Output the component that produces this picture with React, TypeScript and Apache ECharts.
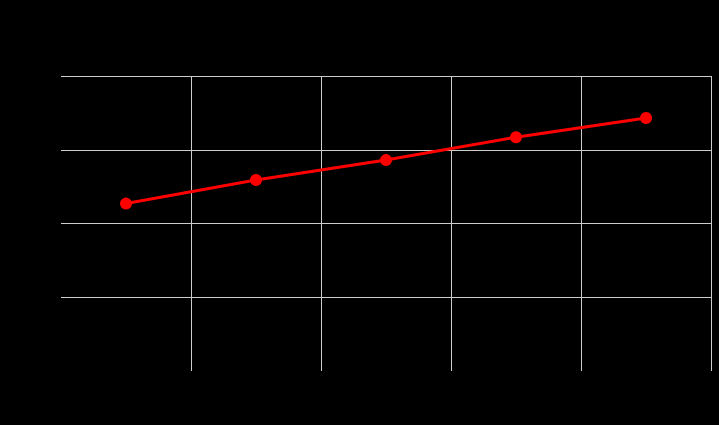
import { useEffect, useRef } from 'react';
import * as echarts from 'echarts';

// ─── Data ─────────────────────────────────────────────────────────────────────

const categories = ['1', '2', '3', '4', '5'];
const values = [22.7, 25.9, 28.6, 31.7, 34.3];

const Y_MIN = 0;
const Y_MAX = 40;
const Y_STEP = 10;

// ─── Option ───────────────────────────────────────────────────────────────────

function buildOption(): echarts.EChartsOption {
  return {
    animation: false,
    backgroundColor: '#000000',
    grid: { left: 61, right: 8, top: 76, bottom: 54 },
    xAxis: {
      type: 'category',
      data: categories,
      boundaryGap: true,
      axisLine: { show: false },
      axisTick: { show: false },
      axisLabel: { show: false },
      splitLine: {
        show: true,
        showMinLine: false,
        lineStyle: { color: '#cccccc', width: 1 },
      },
    },
    yAxis: {
      type: 'value',
      min: Y_MIN,
      max: Y_MAX,
      interval: Y_STEP,
      axisLine: { show: false },
      axisTick: { show: false },
      axisLabel: { show: false },
      splitLine: {
        show: true,
        showMinLine: false,
        lineStyle: { color: '#cccccc', width: 1 },
      },
    },
    series: [
      {
        type: 'line',
        data: values,
        symbol: 'circle',
        symbolSize: 12,
        lineStyle: { color: '#ff0000', width: 3 },
        itemStyle: { color: '#ff0000' },
      },
    ],
  };
}

// ─── Component ────────────────────────────────────────────────────────────────

export default function App() {
  const containerRef = useRef<HTMLDivElement>(null);

  useEffect(() => {
    if (!containerRef.current) return;
    const chart = echarts.init(containerRef.current, null, { renderer: 'svg' });
    chart.setOption(buildOption());
    return () => chart.dispose();
  }, []);

  return (
    <div
      ref={containerRef}
      style={{
        position: 'absolute',
        left: 0,
        top: 0,
        width: 719,
        height: 425,
        background: '#000000',
      }}
    />
  );
}
